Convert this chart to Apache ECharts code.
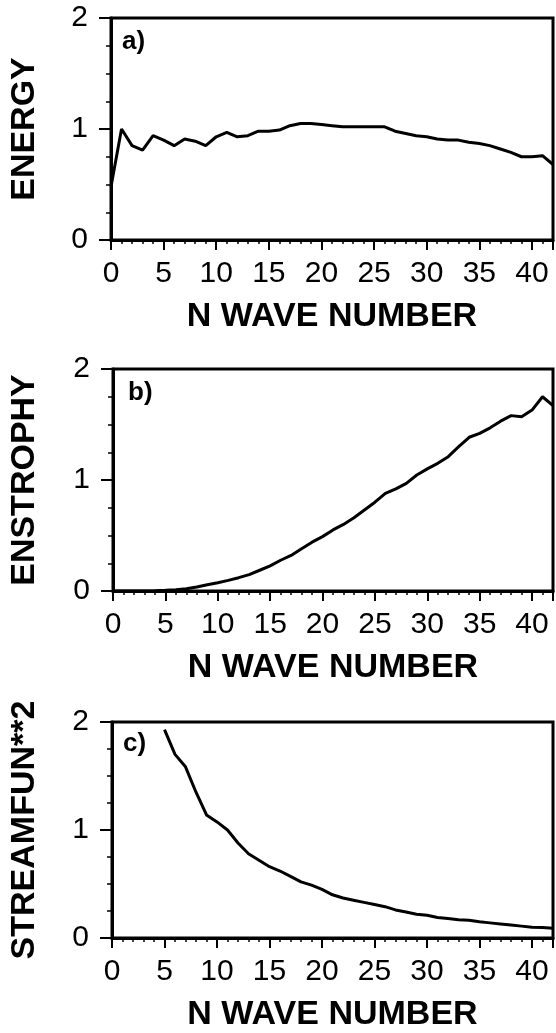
<!DOCTYPE html>
<html>
<head>
<meta charset="utf-8">
<script src="https://cdn.jsdelivr.net/npm/echarts@6/dist/echarts.min.js"></script>
<style>
html,body{margin:0;padding:0;background:#fff;}
#chart{width:556px;height:1033px;}
</style>
</head>
<body>
<div id="chart"></div>
<script>
const waveNumbers = [0,1,2,3,4,5,6,7,8,9,10,11,12,13,14,15,16,17,18,19,20,21,22,23,24,25,26,27,28,29,30,31,32,33,34,35,36,37,38,39,40,41,42];
const xTickLabels = ['0','5','10','15','20','25','30','35','40'];
const yTickLabels = ['0','1','2'];
const panelLabels = ['a)','b)','c)'];
const yTitles = ['ENERGY','ENSTROPHY','STREAMFUN**2'];
const xTitle = 'N WAVE NUMBER';

const energy = [0.48,1.00,0.85,0.81,0.94,0.90,0.85,0.91,0.89,0.85,0.93,0.97,0.93,0.94,0.98,0.98,0.99,1.03,1.05,1.05,1.04,1.03,1.02,1.02,1.02,1.02,1.02,0.98,0.96,0.94,0.93,0.91,0.90,0.90,0.88,0.87,0.85,0.82,0.79,0.75,0.75,0.76,0.68];
const enstrophy = [0,0,0,0.001,0.003,0.006,0.012,0.02,0.036,0.057,0.075,0.096,0.12,0.148,0.187,0.226,0.277,0.32,0.38,0.44,0.49,0.55,0.60,0.66,0.73,0.80,0.88,0.92,0.97,1.045,1.10,1.15,1.21,1.30,1.385,1.42,1.47,1.53,1.58,1.57,1.63,1.75,1.67];
const streamfun = [null,null,null,null,null,1.93,1.70,1.585,1.35,1.14,1.075,1.0,0.88,0.78,0.72,0.66,0.62,0.57,0.52,0.49,0.45,0.40,0.37,0.35,0.33,0.31,0.29,0.26,0.24,0.22,0.21,0.19,0.18,0.17,0.165,0.15,0.14,0.13,0.12,0.11,0.10,0.097,0.09];

const seriesData = [energy, enstrophy, streamfun];
const grids = [
  {left:108, top:18, width:446, height:222},
  {left:110, top:369, width:445, height:222},
  {left:109, top:722, width:446, height:220}
];
const labelPos = [{left:122, top:29},{left:128, top:380},{left:123, top:731}];
const yNameGaps = [69, 71, 70];

const FONT = '"Liberation Sans", Arial, Helvetica, sans-serif';

const option = {
  backgroundColor:'#fff',
  animation:false,
  title: panelLabels.map((t,i)=>({
    text:t, left:labelPos[i].left, top:labelPos[i].top, padding:0,
    textStyle:{fontFamily:FONT, fontWeight:'bold', fontSize:26, color:'#000'}
  })),
  grid: grids.map(g=>Object.assign({show:true, borderColor:'#000', borderWidth:3, backgroundColor:'transparent'}, g)),
  xAxis: grids.map((g,i)=>({
    type:'value', gridIndex:i, min:0, max:42, interval:5,
    name:xTitle, nameLocation:'middle', nameGap:60,
    nameTextStyle:{fontFamily:FONT, fontWeight:'bold', fontSize:34, color:'#000'},
    axisLine:{show:true, lineStyle:{color:'#000', width:3}},
    axisTick:{show:true, inside:false, length:10, lineStyle:{color:'#000', width:2}},
    minorTick:{show:true, splitNumber:5, length:4, lineStyle:{color:'#000', width:1.5}},
    splitLine:{show:false},
    axisLabel:{margin:19, fontFamily:FONT, fontSize:30, color:'#000',
      formatter:(v)=> (xTickLabels.indexOf(String(v))>=0) ? String(v) : ''},
  })),
  yAxis: grids.map((g,i)=>({
    type:'value', gridIndex:i, min:0, max:2, interval:1,
    name:yTitles[i], nameLocation:'middle', nameGap:yNameGaps[i], nameRotate:90,
    nameTextStyle:{fontFamily:FONT, fontWeight:'bold', fontSize:34, color:'#000'},
    axisLine:{show:true, lineStyle:{color:'#000', width:3}},
    axisTick:{show:true, inside:false, length:12, lineStyle:{color:'#000', width:2}},
    minorTick:{show:true, splitNumber:4, length:5, lineStyle:{color:'#000', width:1.5}},
    splitLine:{show:false},
    axisLabel:{margin:23, fontFamily:FONT, fontSize:30, color:'#000',
      formatter:(v)=> yTickLabels.indexOf(String(v))>=0 ? String(v) : ''}
  })),
  series: seriesData.map((d,i)=>({
    type:'line', xAxisIndex:i, yAxisIndex:i,
    data: waveNumbers.map((n,k)=>[n, d[k]]),
    showSymbol:false, symbol:'none', connectNulls:false,
    lineStyle:{color:'#000', width:3}, clip:true
  }))
};

const chart = echarts.init(document.getElementById('chart'), null, {renderer:'canvas'});
chart.setOption(option);
</script>
</body>
</html>
